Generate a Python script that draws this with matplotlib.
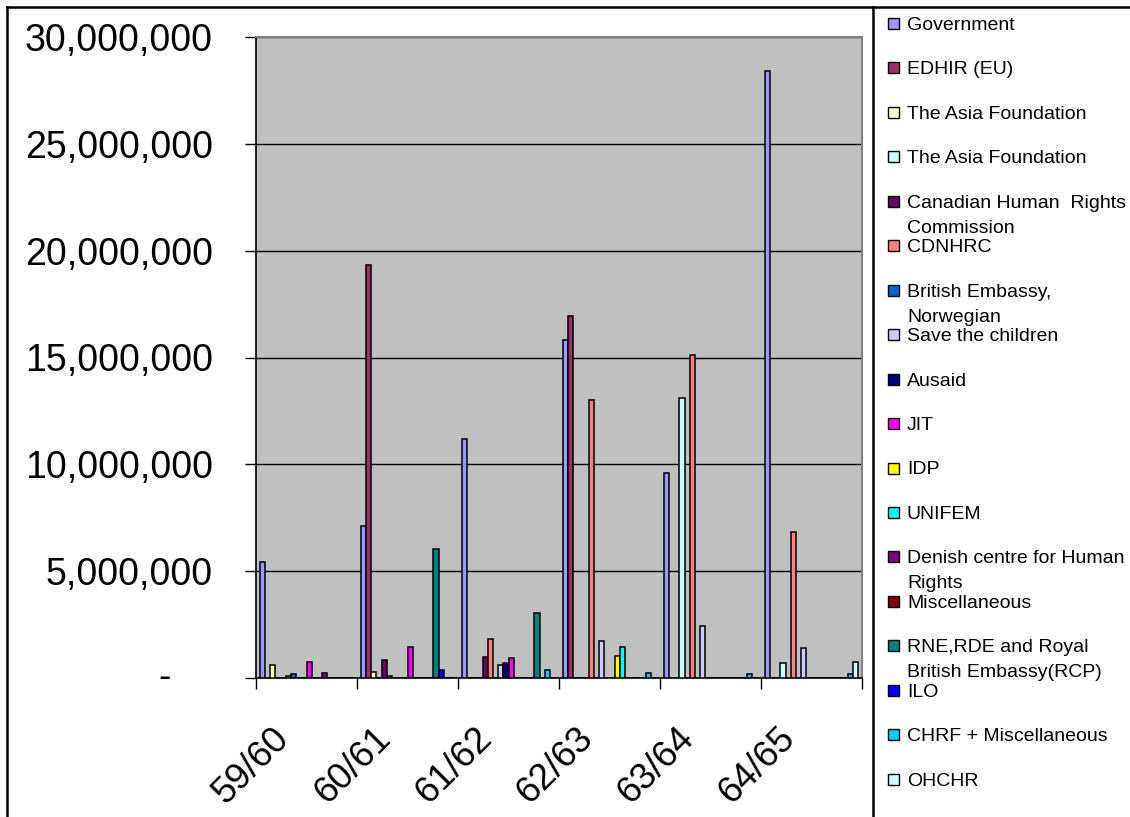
import numpy as np
import matplotlib
matplotlib.use("Agg")
import matplotlib.pyplot as plt
from matplotlib.patches import Rectangle
from matplotlib.lines import Line2D
from matplotlib.ticker import FuncFormatter, FixedLocator
from matplotlib.transforms import ScaledTranslation

plt.rcParams['font.family'] = ['Liberation Sans', 'DejaVu Sans']

# ---------------- data ----------------
years = ["59/60", "60/61", "61/62", "62/63", "63/64", "64/65"]

series_names = [
    "Government",
    "EDHIR (EU)",
    "The Asia Foundation",
    "The Asia Foundation",
    "Canadian Human  Rights\nCommission",
    "CDNHRC",
    "British Embassy,\nNorwegian",
    "Save the children",
    "Ausaid",
    "JIT",
    "IDP",
    "UNIFEM",
    "Denish centre for Human\nRights",
    "Miscellaneous",
    "RNE,RDE and Royal\nBritish Embassy(RCP)",
    "ILO",
    "CHRF + Miscellaneous",
    "OHCHR",
]

series_colors = [
    "#9999FF", "#993366", "#FFFFCC", "#CCFFFF", "#660066", "#FF8080",
    "#0066CC", "#CCCCFF", "#000080", "#FF00FF", "#FFFF00", "#00FFFF",
    "#800080", "#800000", "#008080", "#0000FF", "#00CCFF", "#CCFFFF",
]

government = [5450000, 7120000, 11200000, 15820000, 9600000, 28420000]
edhir      = [0, 19330000, 0, 16930000, 0, 0]
asia_1     = [600000, 300000, 0, 0, 0, 0]
asia_2     = [0, 0, 0, 0, 13100000, 690000]
canadian   = [0, 840000, 1000000, 0, 0, 0]
cdnhrc     = [80000, 100000, 1830000, 13000000, 15120000, 6840000]
british    = [170000, 0, 0, 0, 0, 0]
save_child = [0, 0, 610000, 1750000, 2430000, 1390000]
ausaid     = [0, 0, 690000, 0, 0, 0]
jit        = [760000, 1440000, 920000, 0, 0, 0]
idp        = [0, 0, 0, 1050000, 0, 0]
unifem     = [0, 0, 0, 1440000, 0, 0]
denish     = [250000, 0, 0, 0, 0, 0]
misc       = [0, 0, 0, 0, 0, 0]
rne        = [0, 6060000, 3030000, 0, 0, 0]
ilo        = [0, 370000, 0, 0, 0, 0]
chrf       = [0, 0, 370000, 250000, 170000, 170000]
ohchr      = [0, 0, 0, 0, 0, 760000]

series_values = [government, edhir, asia_1, asia_2, canadian, cdnhrc,
                 british, save_child, ausaid, jit, idp, unifem, denish,
                 misc, rne, ilo, chrf, ohchr]

y_ticks = [0, 5000000, 10000000, 15000000, 20000000, 25000000, 30000000]

# ---------------- figure ----------------
W, H = 1130, 817
fig = plt.figure(figsize=(W / 100, H / 100), dpi=100)
fig.patch.set_facecolor("white")

ax_l, ax_r, ax_t, ax_b = 256, 862, 37, 678
ax = fig.add_axes([ax_l / W, (H - ax_b) / H, (ax_r - ax_l) / W, (ax_b - ax_t) / H])
ax.set_facecolor("#C0C0C0")

x = np.arange(len(years))
n = len(series_values)
w = 0.0514
for j, (vals, col) in enumerate(zip(series_values, series_colors)):
    ax.bar(x + (j - (n - 1) / 2) * w, vals, w, color=col,
           edgecolor="black", linewidth=1.1, zorder=3)

ax.set_xlim(-0.5, len(years) - 0.5)
ax.set_ylim(0, 30000000)
ax.set_yticks(y_ticks)
ax.yaxis.set_major_formatter(FuncFormatter(lambda v, p: "" if v == 0 else f"{int(v):,}"))
ax.yaxis.grid(True, color="black", linewidth=1.0, zorder=1)
ax.set_axisbelow(True)

# x ticks: major at boundaries, labels at minor (centres)
ax.xaxis.set_major_locator(FixedLocator(np.arange(-0.5, len(years), 1.0)))
ax.set_xticklabels([""] * (len(years) + 1))
ax.set_xticks(x, minor=True)
ax.set_xticklabels(years, minor=True, rotation=45, ha="right",
                   fontsize=26.5)
ax.tick_params(axis="x", which="major", length=8, width=1, direction="out")
ax.tick_params(axis="x", which="minor", length=0, pad=31)
for lab in ax.get_xticklabels(minor=True):
    lab.set_transform(lab.get_transform() + ScaledTranslation(-0.10, 0, fig.dpi_scale_trans))

ax.tick_params(axis="y", which="major", length=8, width=1, direction="out",
               labelsize=27, pad=23)

# zero label shown as dash (accounting format)
ax.text(-0.1507, 0, "-", transform=ax.get_yaxis_transform(), ha="center",
        va="center", fontsize=27)

for s in ["left", "bottom"]:
    ax.spines[s].set_color("black")
    ax.spines[s].set_linewidth(1.2)
for s in ["top", "right"]:
    ax.spines[s].set_color("#808080")
    ax.spines[s].set_linewidth(1.5)

# ---------------- frame lines ----------------
def fx(px):
    return px / W

def fy(py):
    return (H - py) / H

frame_kw = dict(color="black", linewidth=1.8, transform=fig.transFigure)
fig.add_artist(Line2D([fx(7), fx(7)], [fy(7), fy(H)], **frame_kw))
fig.add_artist(Line2D([fx(7), fx(W)], [fy(7), fy(7)], **frame_kw))
fig.add_artist(Line2D([fx(873), fx(873)], [fy(7), fy(H)], **frame_kw))

# ---------------- legend (manual) ----------------
y0, dy, line_dy = 23.3, 44.47, 25
for k, (name, col) in enumerate(zip(series_names, series_colors)):
    yc = y0 + dy * k
    fig.add_artist(Rectangle((fx(888), fy(yc + 5.5)), 11 / W, 11 / H,
                             facecolor=col, edgecolor="black", linewidth=1.0,
                             transform=fig.transFigure))
    for li, line in enumerate(name.split("\n")):
        fig.text(fx(907), fy(yc + 6.5 + li * line_dy), line, fontsize=14,
                 ha="left", va="baseline")

fig.savefig("out.png", dpi=100)
